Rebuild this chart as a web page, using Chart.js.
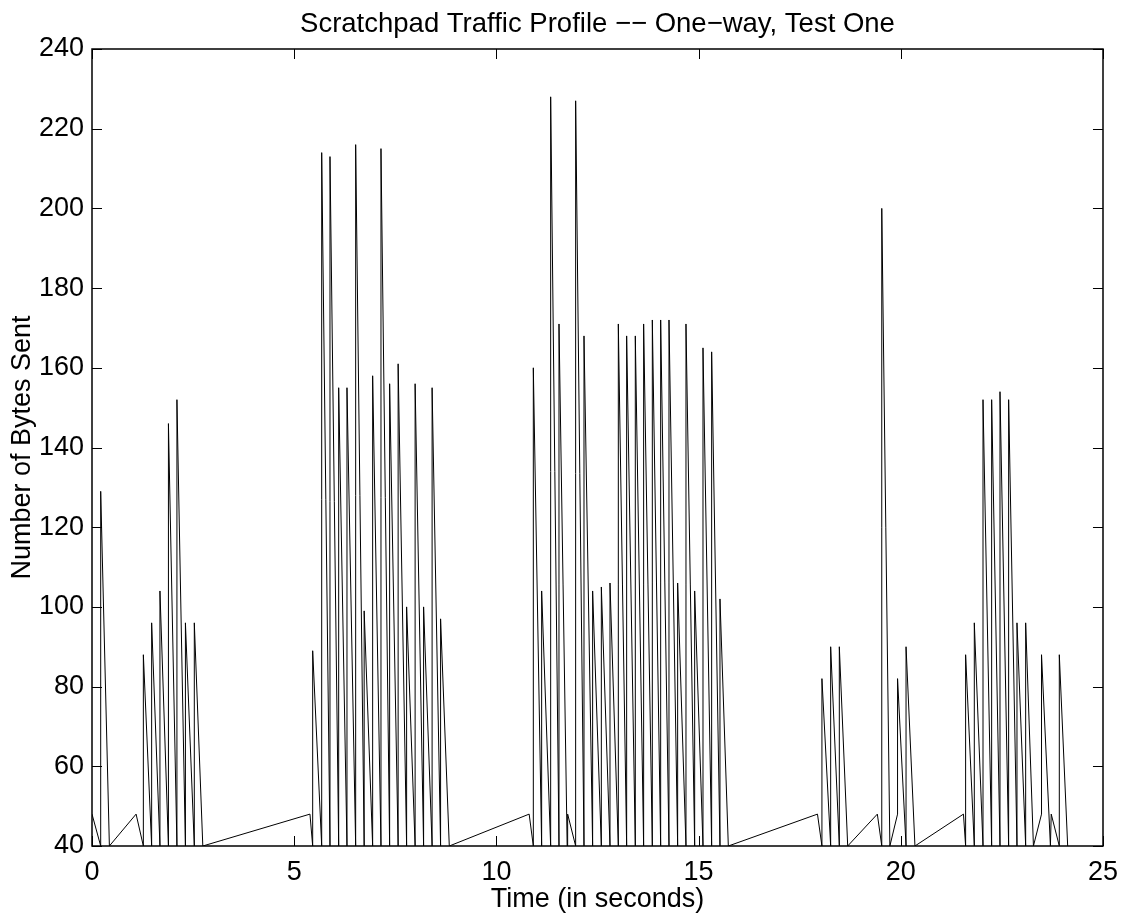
<!DOCTYPE html>
<html>
<head>
<meta charset="utf-8">
<script src="https://cdn.jsdelivr.net/npm/chart.js@4.4.1/dist/chart.umd.min.js"></script>
<style>
  html, body { margin: 0; padding: 0; background: #fff; }
  #wrap { width: 1128px; height: 919px; }
</style>
</head>
<body>
<div id="wrap"><canvas id="c" width="1128" height="919"></canvas></div>
<script>
// ---- Data (vertices of the traffic trace) ----
const timeSec = [
  0, 0.215, 0.215, 0.43, 1.09,
  1.27, 1.27, 1.475, 1.475, 1.68, 1.68, 1.89, 1.89, 2.10, 2.10, 2.31, 2.31, 2.53, 2.53, 2.74,
  5.39,
  5.457, 5.457, 5.68, 5.68, 5.885, 5.885, 6.10, 6.10, 6.305, 6.305, 6.52, 6.52, 6.73, 6.73,
  6.94, 6.94, 7.146, 7.146, 7.36, 7.36, 7.57, 7.57, 7.78, 7.78, 7.99, 7.99, 8.20, 8.20,
  8.41, 8.41, 8.62, 8.62, 8.835,
  10.81,
  10.913, 10.913, 11.119, 11.119, 11.342, 11.342, 11.548, 11.548, 11.75, 11.762,
  11.96, 11.96, 12.166, 12.166, 12.38, 12.38, 12.595, 12.595, 12.809, 12.809,
  13.015, 13.015, 13.221, 13.221, 13.435, 13.435, 13.641, 13.641, 13.856, 13.856,
  14.062, 14.062, 14.268, 14.268, 14.482, 14.482, 14.688, 14.688, 14.903, 14.903,
  15.109, 15.109, 15.323, 15.323, 15.529, 15.529, 15.735,
  17.94,
  18.05, 18.05, 18.266, 18.266, 18.48, 18.48, 18.687,
  19.42, 19.53, 19.53, 19.73, 19.92, 19.92, 20.13, 20.13, 20.35,
  21.55,
  21.603, 21.603, 21.818, 21.818, 22.033, 22.033, 22.247, 22.247, 22.453, 22.453,
  22.667, 22.667, 22.873, 22.873, 23.088, 23.088, 23.28,
  23.48, 23.48, 23.70, 23.72, 23.92, 23.92, 24.127
];
const bytesSent = [
  48, 40, 129, 40, 48,
  40, 88, 40, 96, 40, 104, 40, 146, 40, 152, 40, 96, 40, 96, 40,
  48,
  40, 89, 40, 214, 40, 213, 40, 155, 40, 155, 40, 216, 40, 99,
  40, 158, 40, 215, 40, 156, 40, 161, 40, 100, 40, 156, 40, 100,
  40, 155, 40, 97, 40,
  48,
  40, 160, 40, 104, 40, 228, 40, 171, 40, 48,
  40, 227, 40, 168, 40, 104, 40, 105, 40, 106,
  40, 171, 40, 168, 40, 168, 40, 171, 40, 172,
  40, 172, 40, 172, 40, 106, 40, 171, 40, 104,
  40, 165, 40, 164, 40, 102, 40,
  48,
  40, 82, 40, 90, 40, 90, 40,
  48, 40, 200, 40, 48, 82, 40, 90, 40,
  48,
  40, 88, 40, 96, 40, 152, 40, 152, 40, 154,
  40, 152, 40, 96, 40, 96, 40,
  48, 88, 40, 48, 40, 88, 40
];
const xTickValues = [0, 5, 10, 15, 20, 25];
const yTickValues = [40, 60, 80, 100, 120, 140, 160, 180, 200, 220, 240];
const titleText = 'Scratchpad Traffic Profile \u2212\u2212 One\u2212way, Test One';
const xTitle = 'Time (in seconds)';
const yTitle = 'Number of Bytes Sent';

// ---- Chart ----
Chart.defaults.font.family = "'Liberation Sans', Arial, Helvetica, sans-serif";
Chart.defaults.font.size = 27;
Chart.defaults.color = '#000';

const points = timeSec.map((t, i) => ({ x: t, y: bytesSent[i] }));

const framePlugin = {
  id: 'matlabFrame',
  afterDatasetsDraw(chart) {
    const { ctx, chartArea: a, scales } = chart;
    const xs = scales.x, ys = scales.y;
    const L = 10;
    ctx.save();
    ctx.strokeStyle = '#000';
    ctx.lineWidth = 1;
    ctx.beginPath();
    xs.ticks.forEach(t => {
      const px = Math.round(xs.getPixelForValue(t.value)) + 0.5;
      ctx.moveTo(px, a.bottom); ctx.lineTo(px, a.bottom - L);
      ctx.moveTo(px, a.top); ctx.lineTo(px, a.top + L);
    });
    ys.ticks.forEach(t => {
      const py = Math.round(ys.getPixelForValue(t.value)) + 0.5;
      ctx.moveTo(a.left, py); ctx.lineTo(a.left + L, py);
      ctx.moveTo(a.right, py); ctx.lineTo(a.right - L, py);
    });
    ctx.stroke();
    ctx.lineWidth = 1.5;
    ctx.strokeRect(Math.round(a.left), Math.round(a.top),
                   Math.round(a.right) - Math.round(a.left),
                   Math.round(a.bottom) - Math.round(a.top));
    ctx.restore();
  }
};

new Chart(document.getElementById('c'), {
  type: 'scatter',
  data: {
    datasets: [{
      data: points,
      showLine: true,
      borderColor: '#000',
      backgroundColor: '#000',
      borderWidth: 1,
      pointRadius: 0,
      tension: 0
    }]
  },
  options: {
    responsive: false,
    animation: false,
    events: [],
    layout: { padding: { left: 0, right: 25, top: 0, bottom: 0 } },
    plugins: {
      legend: { display: false },
      tooltip: { enabled: false },
      title: {
        display: true,
        text: titleText,
        fullSize: false,
        font: { size: 27.5, weight: 'normal' },
        color: '#000',
        padding: { top: 8, bottom: 8 }
      }
    },
    scales: {
      x: {
        type: 'linear',
        min: 0, max: 25,
        afterFit(s) { s.height = 73; },
        afterBuildTicks(s) { s.ticks = xTickValues.map(v => ({ value: v })); },
        grid: { display: false, drawTicks: false },
        border: { display: false },
        ticks: { padding: 10, maxRotation: 0, autoSkip: false, color: '#000',
                 callback: v => String(v) },
        title: { display: true, text: xTitle, color: '#000',
                 padding: { top: 0, bottom: 3 } }
      },
      y: {
        type: 'linear',
        min: 40, max: 240,
        afterFit(s) { s.width = 92; },
        afterBuildTicks(s) { s.ticks = yTickValues.map(v => ({ value: v })); },
        grid: { display: false, drawTicks: false },
        border: { display: false },
        ticks: { padding: 8, autoSkip: false, color: '#000',
                 callback: v => String(v) },
        title: { display: true, text: yTitle, color: '#000',
                 padding: { top: 6, bottom: 0 } }
      }
    }
  },
  plugins: [framePlugin]
});
</script>
</body>
</html>
